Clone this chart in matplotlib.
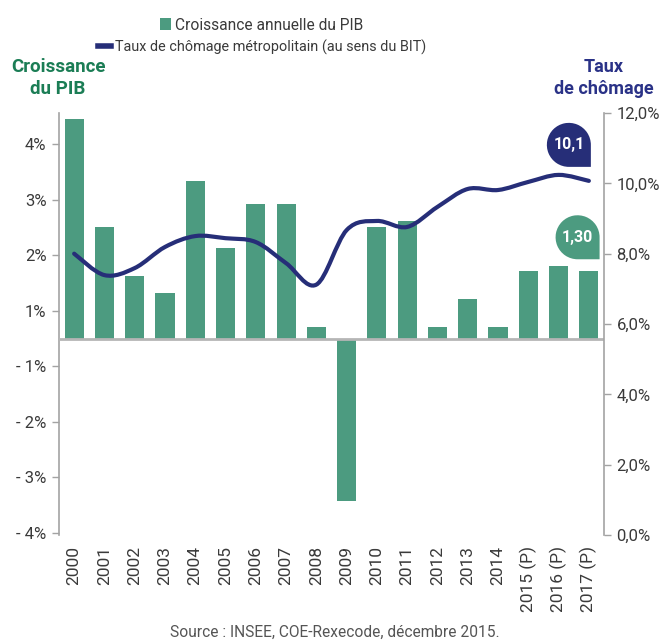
import matplotlib
matplotlib.use("Agg")
import matplotlib.pyplot as plt
from matplotlib.patches import Patch, PathPatch
from matplotlib.lines import Line2D
from matplotlib.path import Path
from matplotlib.transforms import Affine2D, ScaledTranslation
import numpy as np

plt.rcParams['font.family'] = ['Roboto', 'DejaVu Sans']

# data
years = ["2000", "2001", "2002", "2003", "2004", "2005", "2006", "2007", "2008",
         "2009", "2010", "2011", "2012", "2013", "2014", "2015 (P)", "2016 (P)", "2017 (P)"]
pib = [3.95, 2.0, 1.12, 0.82, 2.83, 1.63, 2.42, 2.42, 0.21,
       -2.92, 2.0, 2.12, 0.21, 0.71, 0.2, 1.21, 1.3, 1.21]
chomage = [8.0, 7.39, 7.59, 8.19, 8.5, 8.44, 8.33, 7.73, 7.12,
           8.67, 8.93, 8.76, 9.33, 9.84, 9.81, 10.04, 10.24, 10.07]
left_ticks = [3.5, 2.5, 1.5, 0.5, -0.5, -1.5, -2.5, -3.5]
left_labels = ["4%", "3%", "2%", "1%", "- 1%", "- 2%", "- 3%", "- 4%"]
right_ticks = [0, 2, 4, 6, 8, 10, 12]
right_labels = ["0,0%", "2,0%", "4,0%", "6,0%", "8,0%", "10,0%", "12,0%"]

green = "#4c9b80"
navy = "#262e78"
grey = "#a3a3a3"
txt = "#3a3a3a"

fig = plt.figure(figsize=(6.67, 6.41), dpi=100)
ax = fig.add_axes([59 / 667, 1 - 535 / 641, 545 / 667, 422 / 641])
ax2 = ax.twinx()

x = np.arange(len(years))
ax.bar(x, pib, width=0.63, color=green, zorder=2)
ax.axhline(0, color="#b5b5b5", lw=2, zorder=3)
ax.set_xlim(-0.5, len(years) - 0.5)
ax.set_ylim(-3.536, 4.058)
ax.set_yticks(left_ticks)
ax.set_yticklabels(left_labels)
ax.set_xticks(x)
ax.set_xticklabels(years, rotation=90)
ax.tick_params(axis="x", length=0, pad=8, labelsize=12.5, labelcolor=txt)
ax.tick_params(axis="y", length=5, width=1, color=grey, labelsize=12, labelcolor=txt, pad=4)
for s in ["top", "bottom", "right"]:
    ax.spines[s].set_visible(False)
ax.spines["left"].set_color(grey)
ax.spines["left"].set_linewidth(1.2)

# smooth line through the points (Catmull-Rom as cubic Bezier)
pts = np.column_stack([x, chomage]).astype(float)
verts = [tuple(pts[0])]
codes = [Path.MOVETO]
n = len(pts)
for i in range(n - 1):
    p0 = pts[max(i - 1, 0)]
    p1 = pts[i]
    p2 = pts[i + 1]
    p3 = pts[min(i + 2, n - 1)]
    c1 = p1 + (p2 - p0) / 6
    c2 = p2 - (p3 - p1) / 6
    verts += [tuple(c1), tuple(c2), tuple(p2)]
    codes += [Path.CURVE4] * 3
ax2.add_patch(PathPatch(Path(verts, codes), fill=False, edgecolor=navy, lw=3,
                        capstyle="round", zorder=4))
ax2.set_ylim(0, 12)
ax2.set_yticks(right_ticks)
ax2.set_yticklabels(right_labels)
ax2.tick_params(axis="y", length=5, width=1, color=grey, labelsize=12, labelcolor=txt, pad=4)
for s in ["top", "bottom", "left"]:
    ax2.spines[s].set_visible(False)
ax2.spines["right"].set_color(grey)
ax2.spines["right"].set_linewidth(1.2)


def bubble(axis, xd, yd, dx, dy, color, label):
    r = 22
    arc = Path.arc(0, 270)
    v = list(arc.vertices * r) + [(r, -r), (r, 0), (r, 0)]
    c = list(arc.codes) + [Path.LINETO, Path.LINETO, Path.CLOSEPOLY]
    tr = Affine2D().translate(dx, dy).scale(fig.dpi / 100) + ScaledTranslation(xd, yd, axis.transData)
    axis.add_patch(PathPatch(Path(v, c), facecolor=color, edgecolor="none",
                             transform=tr, zorder=6, clip_on=False))
    axis.annotate(label, xy=(xd, yd), xytext=(dx, dy), textcoords="offset pixels",
                  ha="center", va="center", color="white", fontsize=11.5,
                  fontweight="bold", zorder=7)


bubble(ax2, 17, chomage[-1], -20, 36, navy, "10,1")
bubble(ax, 16, pib[16], 19, 29, green, "1,30")

# axis titles
fig.text(58 / 667, 1 - 78 / 641, "Croissance\ndu PIB", ha="center", va="center",
         color="#1b7d55", fontsize=13.5, fontweight="bold", linespacing=1.3)
fig.text(604 / 667, 1 - 78 / 641, "Taux\nde chômage", ha="center", va="center",
         color="#2a3287", fontsize=13, fontweight="bold", linespacing=1.3)

# legend
h1 = Patch(facecolor=green, edgecolor="none")
h2 = Line2D([], [], color=navy, lw=4)
fig.legend(handles=[h1], labels=["Croissance annuelle du PIB"], loc="center",
           bbox_to_anchor=(262 / 667, 1 - 25 / 641), frameon=False, fontsize=11.2,
           handlelength=0.65, handleheight=0.8, handletextpad=0.3, labelcolor=txt)
fig.legend(handles=[h2], labels=["Taux de chômage métropolitain (au sens du BIT)"], loc="center",
           bbox_to_anchor=(262 / 667, 1 - 47 / 641), frameon=False, fontsize=10.4,
           handlelength=0.9, handletextpad=0.3, labelcolor=txt)

fig.text(335 / 667, 1 - 632 / 641, "Source : INSEE, COE-Rexecode, décembre 2015.",
         ha="center", va="center", color="#555555", fontsize=11.2)

fig.savefig("out.png", dpi=100)
